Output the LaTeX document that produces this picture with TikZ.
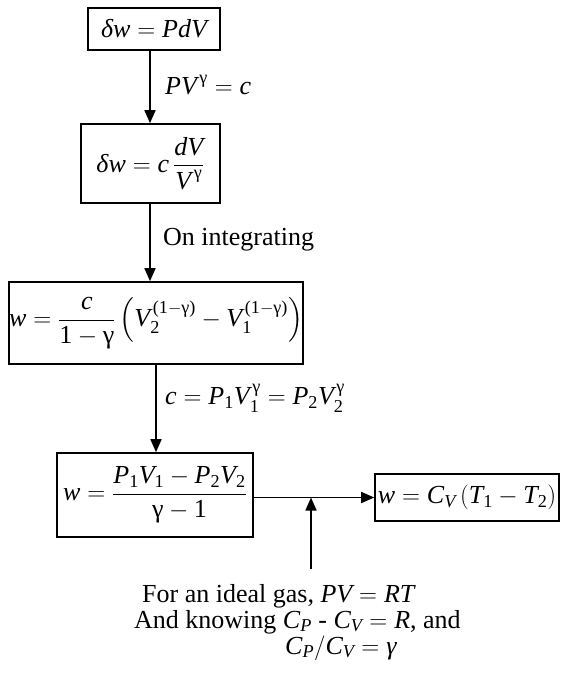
\documentclass[tikz,border=0pt]{standalone}
\usepackage{amsmath}
\usepackage{fontspec}
\setmainfont{Liberation Serif}
\usetikzlibrary{arrows.meta}
\newcommand{\mi}[1]{\text{\itshape #1}}
\newcommand{\tx}[1]{\text{#1}}
\newcommand{\ksup}{\kern2.5pt}
\begin{document}
\begin{tikzpicture}[x=1pt,y=-1pt,
  box/.style={draw,line width=1.6pt,inner sep=0pt,align=center,font=\fontsize{26}{30}\selectfont},
  lbl/.style={anchor=west,inner sep=0pt,font=\fontsize{26}{30}\selectfont},
  note/.style={anchor=west,inner sep=0pt,font=\fontsize{26}{30}\selectfont},
  arr/.style={line width=1.6pt,-{Triangle[length=13pt,width=11pt]}}]
\useasboundingbox (0,0) rectangle (562,681);
\node[box,minimum width=132pt,minimum height=42pt] (b1) at (154,29) {$\mi{δw} = \mi{PdV}$};
\node[box,minimum width=139pt,minimum height=79pt] (b2) at (150.5,163.5) {$\mi{δw} = \mi{c}\,\dfrac{\mi{dV}}{\mi{V}^{\ksup\tx{γ}}}$};
\node[box,minimum width=292pt,minimum height=82pt] (b3) at (156,323) {$\mi{w} = \dfrac{\mi{c}}{\tx{1}-\tx{γ}}\left(\mi{V}_{\tx{2}}^{\ksup\tx{(1}-\tx{γ)}} - \mi{V}_{\tx{1}}^{\ksup\tx{(1}-\tx{γ)}}\right)$};
\node[box,minimum width=196pt,minimum height=84pt] (b4) at (155,495) {$\mi{w} = \dfrac{\mi{P}_{\tx{1}}\mi{V}_{\tx{1}} - \mi{P}_{\tx{2}}\mi{V}_{\tx{2}}}{\tx{γ} - \tx{1}}$};
\node[box,minimum width=184pt,minimum height=47pt] (b5) at (467,497.5) {$\mi{w} = \mi{C}_{\mi{V}}\left(\mi{T}_{\tx{1}} - \mi{T}_{\tx{2}}\right)$};
\coordinate (xa) at (150,0);
\coordinate (xb) at (156,0);
\coordinate (tail) at (311,569);
\draw[arr] (b1.south -| xa) -- (b2.north -| xa);
\draw[arr] (b2.south -| xa) -- (b3.north -| xa);
\draw[arr] (b3.south -| xb) -- (b4.north -| xb);
\draw[arr] (b4.east |- b5.west) -- (b5.west);
\draw[arr] (tail) -- (tail |- b5.west);
\node[lbl] (l1) at (165,85) {$\mi{PV}^{\ksup\tx{γ}} = \mi{c}$};
\node[lbl] (l2) at (163,240) {On integrating};
\node[lbl] (l3) at (165,398) {$\mi{c} = \mi{P}_{\tx{1}}\mi{V}_{\tx{1}}^{\ksup\tx{γ}} = \mi{P}_{\tx{2}}\mi{V}_{\tx{2}}^{\ksup\tx{γ}}$};
\node[note] (n1) at (142,596) {For an ideal gas, $\mi{PV} = \mi{RT}$};
\node[note] (n2) at (134,622) {And knowing $\mi{C}_{\mi{P}}$ - $\mi{C}_{\mi{V}} = \mi{R}$, and};
\node[note] (n3) at (285,648) {$\mi{C}_{\mi{P}}/\mi{C}_{\mi{V}} = \mi{γ}$};
\end{tikzpicture}
\end{document}
